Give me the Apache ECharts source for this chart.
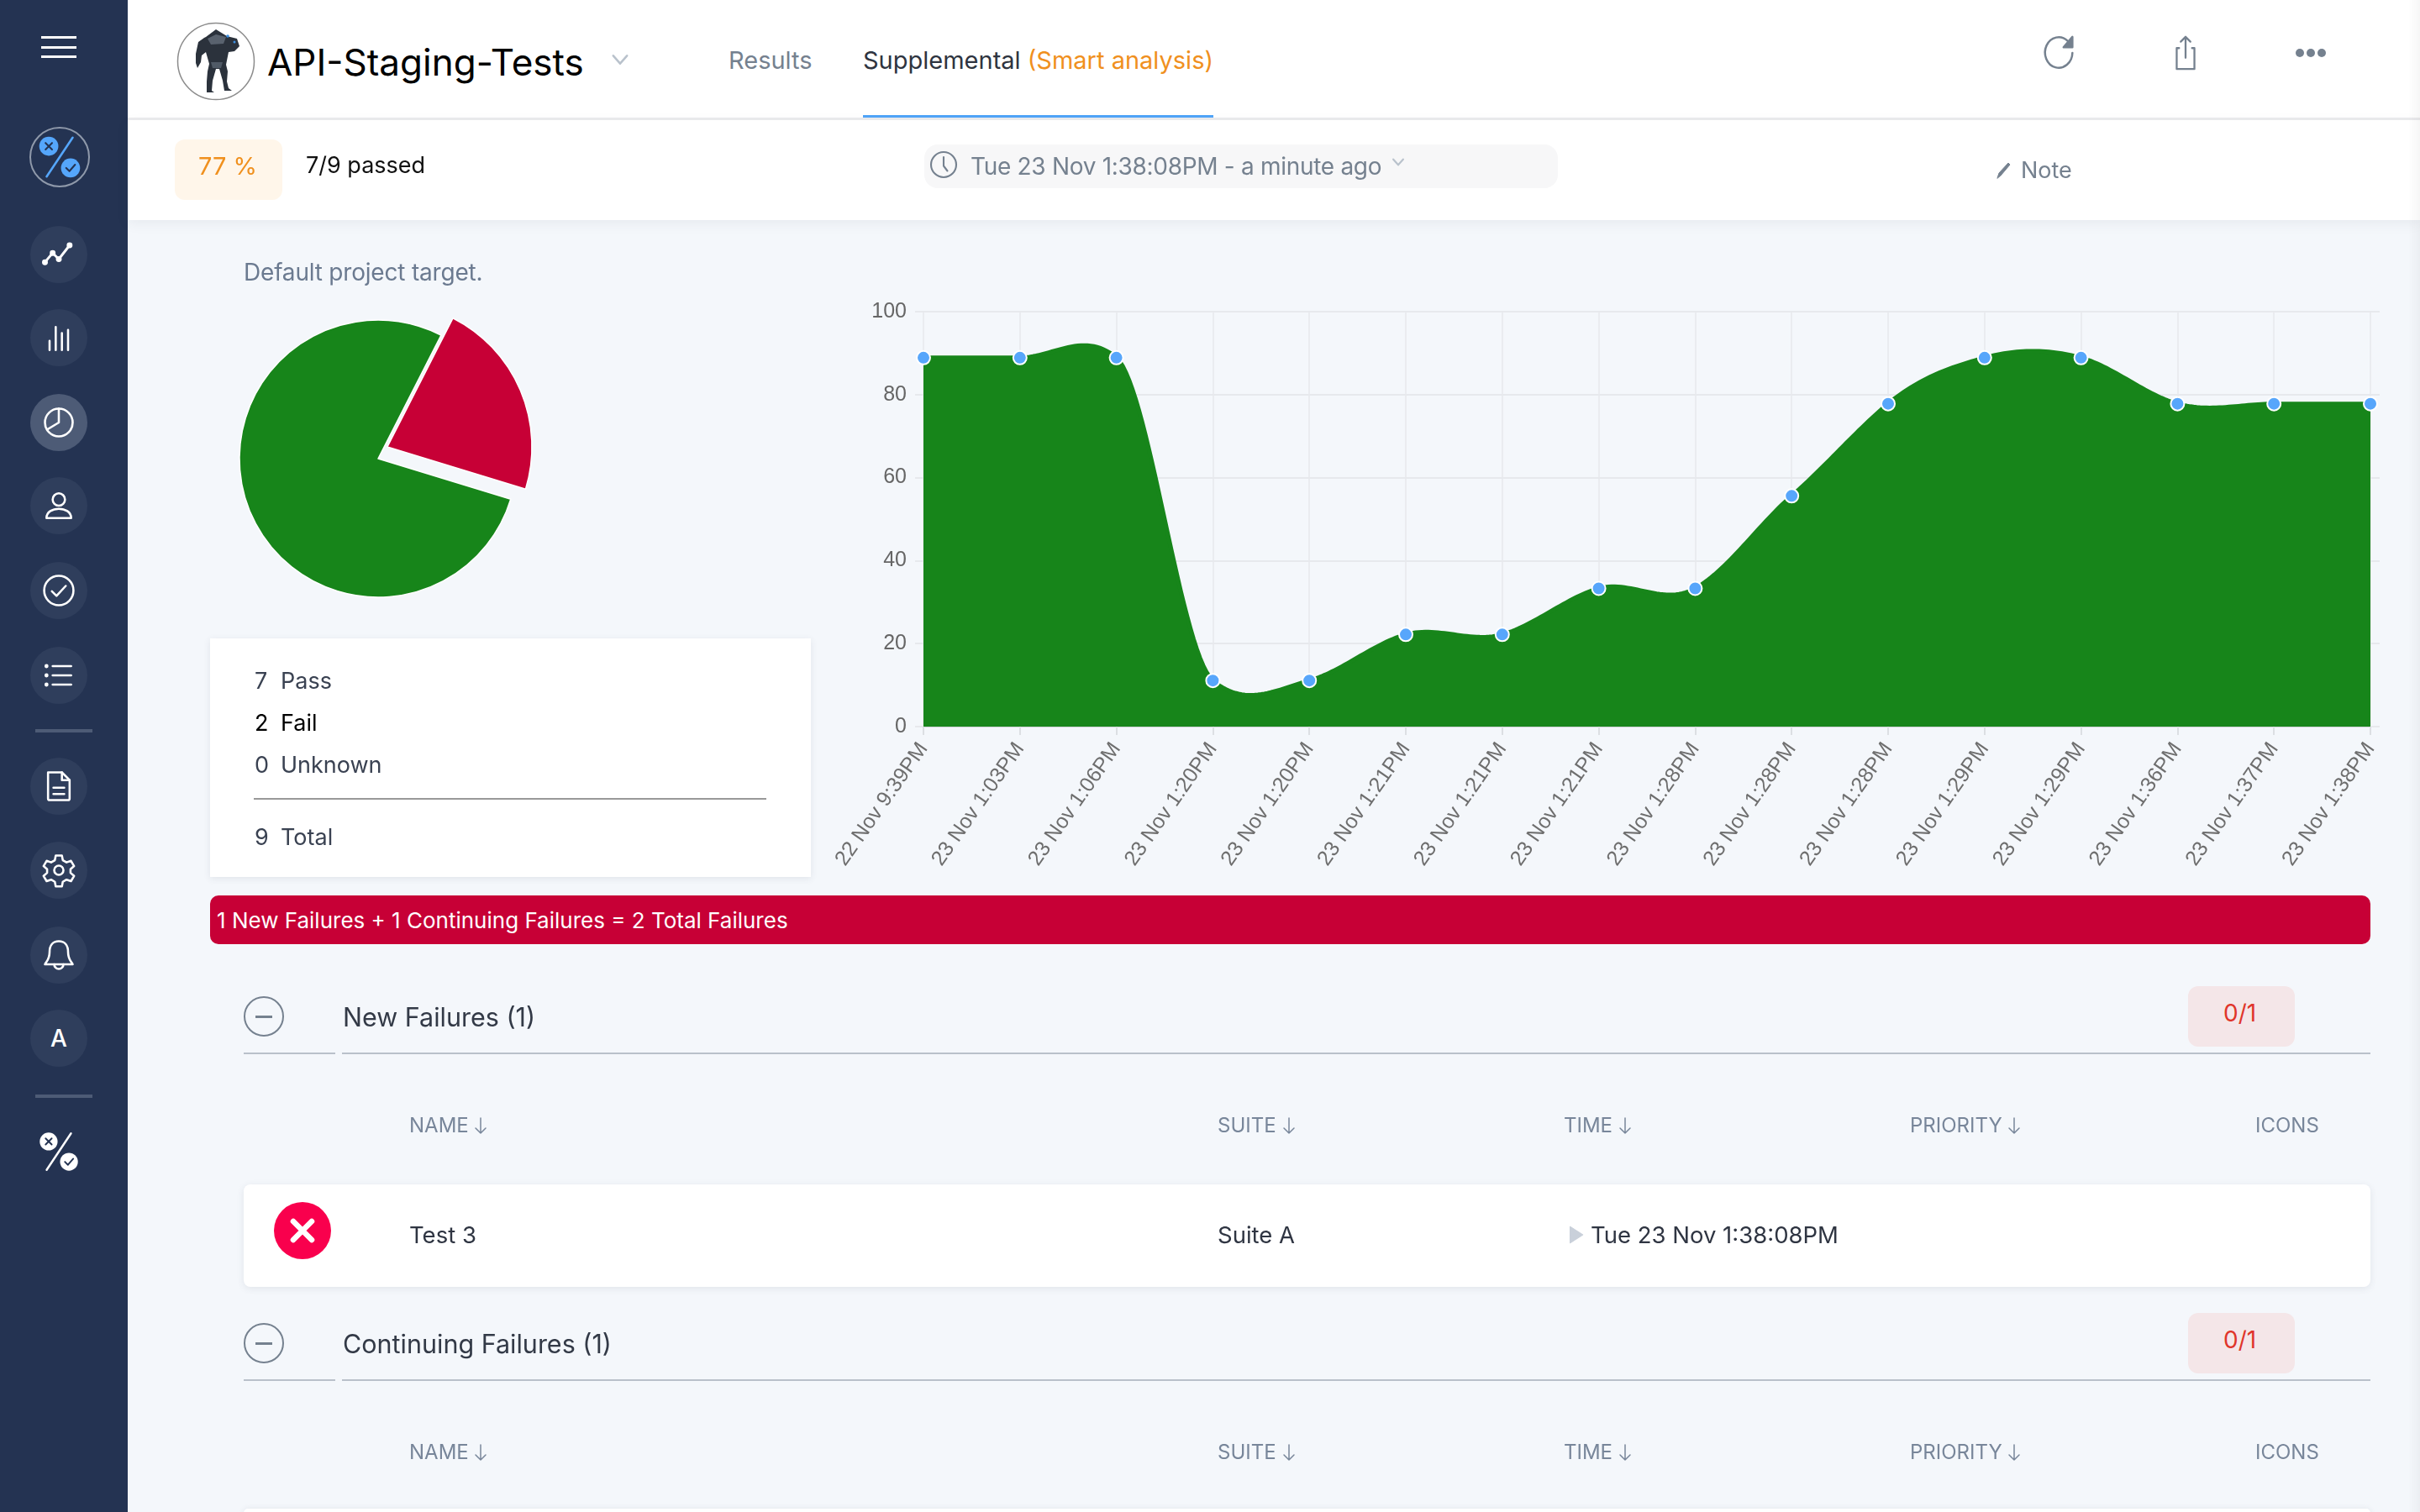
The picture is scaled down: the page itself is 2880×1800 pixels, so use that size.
<!DOCTYPE html>
<html>
<head>
<meta charset="utf-8">
<title>API-Staging-Tests</title>
<script src="https://cdn.jsdelivr.net/npm/echarts@6/dist/echarts.min.js"></script>
<style>
  html, body { margin: 0; padding: 0; width: 2880px; height: 1800px; overflow: hidden; background: #f4f7fb; font-family: Inter, "Noto Sans", sans-serif; }
  #chart { position: absolute; left: 0; top: 0; width: 2880px; height: 1800px; }
  .box { position: absolute; box-sizing: border-box; }
  .t { position: absolute; white-space: nowrap; transform: translateY(-50%); line-height: 1; }
  svg.ic { position: absolute; overflow: visible; fill: none; }
</style>
</head>
<body>
<div id="chart"></div>
<div id="ui"></div>
<script>
// chart values
const runLabels = ["22 Nov 9:39PM", "23 Nov 1:03PM", "23 Nov 1:06PM", "23 Nov 1:20PM", "23 Nov 1:20PM", "23 Nov 1:21PM", "23 Nov 1:21PM", "23 Nov 1:21PM", "23 Nov 1:28PM", "23 Nov 1:28PM", "23 Nov 1:28PM", "23 Nov 1:29PM", "23 Nov 1:29PM", "23 Nov 1:36PM", "23 Nov 1:37PM", "23 Nov 1:38PM"];
const passRate = [88.9, 88.9, 88.9, 11.1, 11.1, 22.2, 22.2, 33.3, 33.3, 55.6, 77.8, 88.9, 88.9, 77.8, 77.8, 77.8];
const statusNames = ["Pass", "Fail", "Unknown"];
const statusCounts = [7, 2, 0];
const totalCount = 9;
const tableColumns = ["NAME", "SUITE", "TIME", "PRIORITY", "ICONS"];

const GREEN = "#17851a";
const RED = "#c70036";
const GRID_LINE = "#e7e9ed";

// page chrome
const ui = document.getElementById("ui");
function box(l, t, w, h, css) {
  const d = document.createElement("div");
  d.className = "box";
  d.style.cssText = `left:${l}px;top:${t}px;width:${w}px;height:${h}px;${css || ""}`;
  ui.appendChild(d);
  return d;
}
function text(l, cy, str, size, color, css) {
  const d = document.createElement("div");
  d.className = "t";
  d.style.cssText = `left:${l}px;top:${cy}px;font-size:${size}px;color:${color};${css || ""}`;
  d.innerHTML = str;
  ui.appendChild(d);
  return d;
}
// icon drawn in a 24x24 box centred on cx,cy
function icon(cx, cy, size, body, stroke, sw) {
  const s = size / 2;
  ui.insertAdjacentHTML("beforeend", `<svg class="ic" viewBox="0 0 24 24" style="left:${cx - s}px;top:${cy - s}px;width:${size}px;height:${size}px" stroke="${stroke || "#fff"}" stroke-width="${sw || 1.4}" stroke-linecap="round" stroke-linejoin="round">${body}</svg>`);
}

// sidebar
box(0, 0, 152, 1800, "background:#243352");
[44, 56, 67].forEach(y => box(49, y - 1.5, 42, 3, "background:#fff"));
box(35, 151, 72, 72, "border:2px solid #8f99aa;border-radius:50%");
const percentBlue = `<line x1="6" y1="21" x2="18" y2="3" stroke="#55a6fb" stroke-width="1"/><circle cx="7" cy="7" r="4.4" fill="#55a6fb" stroke="none"/><circle cx="17" cy="17" r="4.4" fill="#55a6fb" stroke="none"/><path d="M5.500 5.500l3 3M8.500 5.500l-3 3" stroke="#243352" stroke-width=".8"/><path d="M15 17l1.500 1.500 2.600-3" stroke="#243352" stroke-width=".8"/>`;
icon(71, 187, 62, percentBlue);
const navIcons = [
  [303, `<path d="M3 17l5-6 4 4 7-9" stroke-width="1.6"/><circle cx="3" cy="17" r="1.2" fill="#fff"/><circle cx="8" cy="11" r="1.2" fill="#fff"/><circle cx="12" cy="15" r="1.2" fill="#fff"/><circle cx="19" cy="6" r="1.2" fill="#fff"/>`],
  [402, `<path d="M6 20v-6M10 20V5M14 20V9M18 20V7"/>`],
  [503, `<circle cx="12" cy="12" r="9"/><path d="M12 3v9l-7.500 4.500"/>`],
  [602, `<circle cx="12" cy="8" r="4"/><path d="M4 20c0-8 16-8 16 0z"/>`],
  [703, `<circle cx="12" cy="12" r="9.500"/><path d="M7.500 12.500l3 3 6-6.500"/>`],
  [804, `<path d="M8 6h12M8 12h12M8 18h12"/><circle cx="4" cy="6" r=".6" fill="#fff"/><circle cx="4" cy="12" r=".6" fill="#fff"/><circle cx="4" cy="18" r=".6" fill="#fff"/>`],
  [936, `<path d="M5 3h9l5 5v12a1 1 0 0 1-1 1H6a1 1 0 0 1-1-1z"/><path d="M14 3v5h5M8.500 13h7M8.500 17h7"/>`],
  [1036, `<circle cx="12" cy="12" r="3"/><path d="M10 2.500h4l.6 3 2.400 1.400 2.900-1 2 3.400-2.300 2 0 2.400 2.300 2-2 3.400-2.900-1-2.400 1.400-.6 3h-4l-.6-3-2.400-1.400-2.900 1-2-3.400 2.300-2 0-2.400-2.300-2 2-3.400 2.900 1 2.400-1.400z"/>`],
  [1137, `<path d="M12 3c-4 0-6 3-6 7 0 5-2 6-3 8h18c-1-2-3-3-3-8 0-4-2-7-6-7z"/><path d="M9 18a3 3 0 0 0 6 0"/>`]
];
navIcons.forEach(([y, body]) => {
  box(36, y - 34, 68, 68, `border-radius:50%;background:${y === 503 ? "#4d5b76" : "#2f3e5c"}`);
  icon(70, y, 44, body);
});
box(36, 1202, 68, 68, "border-radius:50%;background:#2f3e5c");
text(70, 1236, "A", 28, "#fff", "transform:translate(-50%,-50%);font-weight:500");
box(42, 868, 68, 4, "background:#4d5b76");
box(42, 1303, 68, 4, "background:#4d5b76");
icon(70, 1371, 58, percentBlue.replaceAll("#55a6fb", "#fff"));

// header bands
box(152, 0, 2728, 140, "background:#fff");
box(152, 140, 2728, 3, "background:#ececee");
box(152, 143, 2728, 119, "background:#fff;box-shadow:0 4px 14px rgba(60,70,90,.07)");
box(2866, 0, 14, 1800, "background:linear-gradient(to right,rgba(0,0,0,0),rgba(0,0,0,.035))");

// avatar
ui.insertAdjacentHTML("beforeend", `<svg class="ic" viewBox="0 0 92 94" style="left:211px;top:26px;width:92px;height:94px">
<circle cx="46" cy="47" r="45.500" fill="#fff" stroke="#8c8c8c" stroke-width="1.500"/>
<path d="M34 18l12-9 13 8 12 3 3 9-6 6-7 1-3 15 2 8-1 12 2 8 4 3-9 0-2-12-4-14-4 0-4 14-1 12 3 2-9 0 0-13 1-12 2-9-4-14-5 4-1 8-4 7-2-6 0-11 3-14 7-5z" fill="#2b323c"/>
<path d="M36 20l10-5 12 3-3 8-15 1z" fill="#59626e"/><circle cx="60" cy="17" r="1.800" fill="#3d8fe0"/><circle cx="68" cy="24" r="1.500" fill="#3d8fe0"/><path d="M40 48l14 0-2 7-10 0z" fill="#505a66"/>
</svg>`);
text(318, 74, "API-Staging-Tests", 44, "#000");
icon(738, 71, 28, `<path d="M5 8l7 8 7-8"/>`, "#b9c2cc", 2.2);

// tabs
text(867, 71, "Results", 29, "#75818f");
text(1027, 71, `<span style="color:#2e3440">Supplemental</span> <span style="color:#f0901e">(Smart analysis)</span>`, 29, "#000");
box(1027, 137, 417, 3, "background:#4fa3f7");

// run summary row
box(208, 166, 128, 72, "background:#fff6ea;border-radius:12px");
text(236, 197, "77 %", 29, "#f0901e");
text(364, 196, "7/9 passed", 27, "#111");
box(1100, 172, 754, 52, "background:#f7f7f8;border-radius:16px");
icon(1123, 196, 36, `<circle cx="12" cy="12" r="10"/><path d="M12 6v7l3 4"/>`, "#75818f", 1.400);
text(1155, 198, "Tue 23 Nov 1:38:08PM - a minute ago", 28, "#75818f", "letter-spacing:-.3px");
icon(1664, 193, 20, `<path d="M5 8l7 8 7-8"/>`, "#b9c2cc", 2.6);
icon(2385, 203, 24, `<path d="M4 21l2-6L17 3l2 2L8 18z" fill="#75818f"/>`, "#75818f", 1);
text(2405, 202, "Note", 27, "#75818f");

// header actions
icon(2451, 63, 46, `<path d="M20 12a8.500 9.500 0 1 1-3-7.500"/><path d="M20 2v6.500h-5.500z" fill="#75818f"/>`, "#75818f", 1.300);
icon(2601, 63, 46, `<path d="M8 9H6.500v13h11V9H16M12 15V2M9 5l3-3 3 3"/>`, "#75818f", 1.200);
[2737, 2750, 2763].forEach(x => box(x - 5, 58, 10, 10, "background:#75818f;border-radius:50%"));

// target caption
text(290, 324, "Default project target.", 28, "#6b7a90", "letter-spacing:-.2px");

// status totals card
box(250, 760, 715, 284, "background:#fff;box-shadow:0 2px 8px rgba(60,70,90,.1)");
const statusY = [810, 860, 910];
statusNames.forEach((name, i) => {
  const color = name === "Fail" ? "#000" : "#3a4252";
  text(303, statusY[i], statusCounts[i], 27, color);
  text(334, statusY[i], name, 27, color);
});
box(302, 950, 610, 2, "background:#999");
text(303, 996, totalCount, 27, "#3a4252");
text(334, 996, "Total", 27, "#3a4252");

// failure banner
box(250, 1066, 2571, 58, `background:${RED};border-radius:10px`);
text(258, 1096, "1 New Failures + 1 Continuing Failures = 2 Total Failures", 26, "#fff");

// failure sections
const columnX = [487, 1449, 1861, 2273, 2684];
const arrowGap = { NAME: 85, SUITE: 85, TIME: 73, PRIORITY: 124 };
[["New Failures (1)", 0], ["Continuing Failures (1)", 389]].forEach(([title, dy]) => {
  box(290, 1186 + dy, 48, 48, "border:2.500px solid #75818f;border-radius:50%");
  box(304, 1209 + dy, 20, 2.500, "background:#75818f");
  text(408, 1211 + dy, title, 30.500, "#333a47");
  box(290, 1253 + dy, 109, 2, "background:#b9c0ca");
  box(407, 1253 + dy, 2414, 2, "background:#b9c0ca");
  box(2604, 1174 + dy, 127, 72, "background:#f4e6e8;border-radius:12px");
  text(2646, 1206 + dy, "0/1", 28, "#e0352b");
  tableColumns.forEach((col, i) => {
    text(columnX[i], 1340 + dy, col, 24, "#78869a");
    if (arrowGap[col]) {
      icon(columnX[i] + arrowGap[col], 1340 + dy, 24, `<path d="M12 3v18M6 15l6 6 6-6"/>`, "#78869a", 1.500);
    }
  });
});

// failure row
box(290, 1410, 2531, 122, "background:#fff;border-radius:8px;box-shadow:0 2px 8px rgba(60,70,90,.1)");
box(326, 1431, 68, 68, "background:#f9004d;border-radius:50%");
icon(360, 1465, 44, `<path d="M6 6l12 12M18 6L6 18"/>`, "#fff", 3.600);
text(487, 1471, "Test 3", 27.500, "#2f3542");
text(1449, 1471, "Suite A", 27.500, "#2f3542");
icon(1875, 1470, 26, `<path d="M6 3l14 9-14 9z" fill="#c9d0da"/>`, "#c9d0da", 1);
text(1893, 1471, "Tue 23 Nov 1:38:08PM", 27.500, "#2f3542");
box(290, 1796, 2531, 10, "background:#fff;border-radius:8px;box-shadow:0 0 6px rgba(60,70,90,.1)");

// curve through the runs: hermite tangents with a capped slope
const TENSION = 0.58;
const MAX_SLOPE = 20;
function slopeAt(i) {
  if (i === 0 || i === passRate.length - 1) return 0;
  const m = TENSION * (passRate[i + 1] - passRate[i - 1]);
  return Math.max(-MAX_SLOPE, Math.min(MAX_SLOPE, m));
}
function renderArea(params, api) {
  if (params.dataIndex !== 0) return null;
  const pts = [];
  for (let i = 0; i < passRate.length - 1; i++) {
    const x0 = api.coord([i, 0])[0];
    const x1 = api.coord([i + 1, 0])[0];
    const m0 = slopeAt(i);
    const m1 = slopeAt(i + 1);
    for (let k = 0; k < 30; k++) {
      const t = k / 30;
      const t2 = t * t;
      const t3 = t2 * t;
      const v = (2 * t3 - 3 * t2 + 1) * passRate[i] + (t3 - 2 * t2 + t) * m0 + (3 * t2 - 2 * t3) * passRate[i + 1] + (t3 - t2) * m1;
      pts.push([x0 + (x1 - x0) * t, api.coord([0, v])[1]]);
    }
  }
  pts.push(api.coord([passRate.length - 1, passRate[passRate.length - 1]]));
  const base = api.coord([0, 0])[1];
  const fillPts = [[pts[0][0], base]].concat(pts, [[pts[pts.length - 1][0], base]]);
  return {
    type: "group",
    children: [
      { type: "polygon", shape: { points: fillPts }, style: { fill: GREEN } },
      { type: "polyline", shape: { points: pts }, style: { stroke: GREEN, fill: null, lineWidth: 5 } }
    ]
  };
}

const chart = echarts.init(document.getElementById("chart"));
const passCount = statusCounts[0];
const failCount = statusCounts[1];
chart.setOption({
  animation: false,
  backgroundColor: "transparent",
  grid: { left: 1099, top: 371, width: 1722, height: 494 },
  xAxis: [
    {
      type: "category",
      data: runLabels,
      boundaryGap: false,
      axisLine: { lineStyle: { color: "#cfd2d6", width: 2 } },
      axisTick: { length: 10, alignWithLabel: true, lineStyle: { color: "#dcdfe3", width: 2 } },
      splitLine: { show: true, lineStyle: { color: GRID_LINE, width: 1.5 } },
      axisLabel: { interval: 0, rotate: 55, margin: 22, fontSize: 25, color: "#6e6e6e", fontFamily: "Liberation Sans" }
    },
    {
      type: "category",
      position: "top",
      data: runLabels,
      boundaryGap: false,
      axisLine: { show: false },
      axisTick: { length: 6, alignWithLabel: true, lineStyle: { color: GRID_LINE, width: 1.5 } },
      axisLabel: { show: false }
    }
  ],
  yAxis: [
    {
      type: "value",
      min: 0,
      max: 100,
      interval: 20,
      axisLine: { show: false },
      axisTick: { show: true, length: 10, lineStyle: { color: GRID_LINE, width: 2 } },
      splitLine: { lineStyle: { color: GRID_LINE, width: 2 } },
      axisLabel: { margin: 20, fontSize: 25, color: "#666", fontFamily: "Liberation Sans" }
    },
    {
      type: "value",
      position: "right",
      min: 0,
      max: 100,
      interval: 20,
      axisLine: { show: false },
      axisTick: { show: true, length: 11, lineStyle: { color: GRID_LINE, width: 2 } },
      splitLine: { show: false },
      axisLabel: { show: false }
    }
  ],
  series: [
    {
      name: "Pass rate area",
      type: "custom",
      renderItem: renderArea,
      clip: false,
      encode: { x: 0, y: 1 },
      data: passRate.map((v, i) => [i, v]),
      z: 2
    },
    {
      name: "Pass rate",
      type: "line",
      data: passRate,
      clip: false,
      smooth: false,
      symbol: "circle",
      symbolSize: 16,
      showAllSymbol: true,
      lineStyle: { width: 0 },
      itemStyle: { color: "#57a6fb", borderColor: "#fff", borderWidth: 2 },
      z: 3
    },
    // the failed slice sits off-centre and slightly larger than the passed one
    {
      name: "Pass",
      type: "pie",
      center: [450, 546],
      radius: [0, 165],
      startAngle: 63,
      label: { show: false },
      labelLine: { show: false },
      silent: true,
      data: [
        { name: "Fail", value: failCount, itemStyle: { color: "transparent" } },
        { name: "Pass", value: passCount, itemStyle: { color: GREEN, borderColor: "#fff", borderWidth: 1.5 } }
      ]
    },
    {
      name: "Fail",
      type: "pie",
      center: [461, 532],
      radius: [0, 172],
      startAngle: 63,
      label: { show: false },
      labelLine: { show: false },
      silent: true,
      data: [
        { name: "Fail", value: failCount, itemStyle: { color: RED, borderColor: "#fff", borderWidth: 1.5 } },
        { name: "Pass", value: passCount, itemStyle: { color: "transparent" } }
      ]
    }
  ]
});
</script>
</body>
</html>
